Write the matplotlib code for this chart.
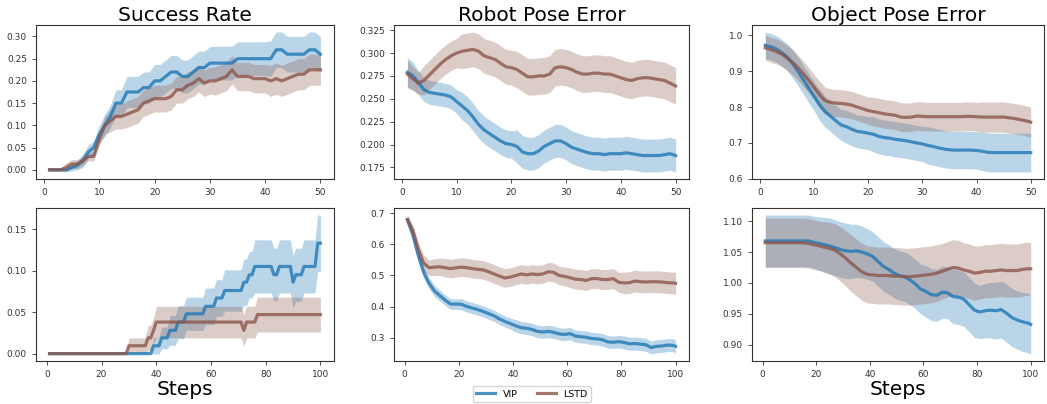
import numpy as np
import matplotlib
matplotlib.use("Agg")
import matplotlib.pyplot as plt
from matplotlib.ticker import MultipleLocator

# ---------------- data ----------------
titles = ["Success Rate", "Robot Pose Error", "Object Pose Error"]
series_names = ["VIP", "LSTD"]
xlabel = "Steps"

steps50 = list(range(1, 51))
steps100 = list(range(1, 101))
steps100s = list(range(1, 100, 2)) + [100]

# Top row (50 steps)
sr_vip = [0, 0, 0, 0, 0.005, 0.01, 0.02, 0.04, 0.05, 0.08,
          0.10, 0.12, 0.15, 0.15, 0.175, 0.175, 0.175, 0.185, 0.185, 0.20,
          0.20, 0.21, 0.22, 0.22, 0.21, 0.21, 0.22, 0.23, 0.23, 0.24,
          0.24, 0.24, 0.24, 0.24, 0.25, 0.25, 0.25, 0.25, 0.25, 0.25,
          0.25, 0.27, 0.27, 0.26, 0.26, 0.26, 0.26, 0.27, 0.27, 0.26]
sr_vip_err = ([0.003] * 4 + [0.008, 0.01, 0.015, 0.015, 0.015, 0.02]
              + [0.025, 0.025, 0.03, 0.03, 0.035, 0.035, 0.035, 0.035, 0.035, 0.037]
              + [0.037] * 10 + [0.038] * 10 + [0.04] * 10)
sr_lstd = [0, 0, 0, 0.005, 0.013, 0.013, 0.02, 0.03, 0.03, 0.07,
           0.10, 0.11, 0.12, 0.12, 0.125, 0.13, 0.135, 0.15, 0.155, 0.16,
           0.16, 0.16, 0.165, 0.18, 0.18, 0.19, 0.195, 0.205, 0.195, 0.20,
           0.20, 0.205, 0.21, 0.225, 0.21, 0.21, 0.21, 0.205, 0.205, 0.205,
           0.20, 0.205, 0.20, 0.205, 0.21, 0.215, 0.215, 0.225, 0.225, 0.225]
sr_lstd_err = ([0.003] * 3 + [0.01] * 6 + [0.015]
               + [0.02, 0.025, 0.028, 0.028, 0.03, 0.03, 0.03, 0.03, 0.03, 0.03]
               + [0.03] * 10 + [0.032] * 10 + [0.035] * 10)

rp_vip = [0.279, 0.275, 0.268, 0.260, 0.257, 0.256, 0.255, 0.254, 0.252, 0.247,
          0.242, 0.237, 0.230, 0.222, 0.216, 0.212, 0.208, 0.204, 0.201, 0.200,
          0.198, 0.192, 0.190, 0.190, 0.193, 0.198, 0.201, 0.204, 0.204, 0.201,
          0.197, 0.195, 0.193, 0.191, 0.190, 0.190, 0.189, 0.190, 0.190, 0.190,
          0.191, 0.190, 0.189, 0.188, 0.188, 0.188, 0.188, 0.189, 0.190, 0.188]
rp_vip_err = [0.016, 0.015] + [0.013] * 8 + [0.015] * 10 + [0.018] * 30
rp_lstd = [0.277, 0.272, 0.267, 0.270, 0.276, 0.282, 0.288, 0.293, 0.297, 0.300,
           0.302, 0.303, 0.304, 0.302, 0.297, 0.295, 0.293, 0.289, 0.285, 0.284,
           0.282, 0.278, 0.274, 0.274, 0.275, 0.275, 0.277, 0.284, 0.285, 0.284,
           0.282, 0.279, 0.277, 0.277, 0.278, 0.278, 0.277, 0.277, 0.275, 0.273,
           0.271, 0.270, 0.272, 0.273, 0.273, 0.272, 0.271, 0.270, 0.267, 0.264]
rp_lstd_err = [0.015, 0.013, 0.012] + [0.016] * 7 + [0.019] * 10 + [0.02] * 30

op_vip = [0.972, 0.968, 0.962, 0.952, 0.940, 0.922, 0.900, 0.877, 0.853, 0.830,
          0.807, 0.788, 0.775, 0.762, 0.750, 0.745, 0.738, 0.732, 0.730, 0.727,
          0.724, 0.718, 0.715, 0.713, 0.710, 0.708, 0.706, 0.703, 0.700, 0.697,
          0.693, 0.690, 0.686, 0.683, 0.681, 0.680, 0.680, 0.680, 0.680, 0.679,
          0.677, 0.674, 0.673, 0.673, 0.673, 0.673, 0.673, 0.673, 0.673, 0.673]
op_vip_err = [0.037] * 5 + [0.04] * 5 + [0.043] * 5 + [0.046] * 5 + [0.049] * 10 + [0.052] * 10 + [0.054] * 10
op_lstd = [0.965, 0.960, 0.955, 0.948, 0.937, 0.925, 0.910, 0.893, 0.875, 0.855,
           0.835, 0.818, 0.813, 0.811, 0.810, 0.808, 0.805, 0.800, 0.795, 0.790,
           0.787, 0.784, 0.781, 0.779, 0.777, 0.772, 0.771, 0.772, 0.775, 0.774,
           0.773, 0.773, 0.773, 0.773, 0.773, 0.773, 0.773, 0.774, 0.774, 0.773,
           0.772, 0.772, 0.772, 0.772, 0.772, 0.770, 0.768, 0.765, 0.762, 0.758]
op_lstd_err = [0.035] * 10 + [0.038] * 10 + [0.04] * 20 + [0.042] * 10

# Bottom row (100 steps)
sr2_vip = ([0.0] * 38 + [0.0095] * 3 + [0.019] * 3 + [0.028] * 3 + [0.038] * 3
           + [0.048] * 7 + [0.057] * 4 + [0.067] * 3 + [0.076] * 7 + [0.086] * 2
           + [0.095] * 2 + [0.105] * 7 + [0.095] * 2 + [0.105] * 5 + [0.086]
           + [0.095] * 3 + [0.105] * 5 + [0.133] * 2)
sr2_vip_err = ([0.0] * 38 + [0.01] * 3 + [0.013] * 3 + [0.018] * 3 + [0.02] * 3
               + [0.02] * 7 + [0.022] * 7 + [0.025] * 7 + [0.028] * 4 + [0.032] * 23 + [0.034] * 2)
sr2_lstd = ([0.0] * 29 + [0.0095] * 7 + [0.019] * 2 + [0.028] + [0.038] * 32
            + [0.028] + [0.038] * 4 + [0.047] * 24)
sr2_lstd_err = [0.0] * 29 + [0.0095] * 7 + [0.015] * 3 + [0.019] * 37 + [0.021] * 24

rp2_vip = [0.68, 0.63, 0.565, 0.51, 0.475, 0.45, 0.435, 0.42, 0.408, 0.408,
           0.407, 0.40, 0.395, 0.39, 0.384, 0.377, 0.37, 0.36, 0.352, 0.345,
           0.338, 0.332, 0.33, 0.326, 0.32, 0.318, 0.32, 0.317, 0.312, 0.31,
           0.313, 0.305, 0.303, 0.301, 0.297, 0.296, 0.293, 0.286, 0.285, 0.287,
           0.284, 0.28, 0.281, 0.279, 0.277, 0.268, 0.272, 0.273, 0.276, 0.275,
           0.272]
rp2_vip_err = ([0.012, 0.015, 0.018, 0.018, 0.018, 0.018, 0.018, 0.017, 0.017, 0.017]
               + [0.018] * 10 + [0.02] * 20 + [0.021] * 11)
rp2_lstd = [0.68, 0.645, 0.585, 0.54, 0.525, 0.527, 0.528, 0.525, 0.522, 0.525,
            0.527, 0.525, 0.522, 0.52, 0.518, 0.512, 0.505, 0.498, 0.492, 0.495,
            0.50, 0.505, 0.502, 0.505, 0.503, 0.505, 0.512, 0.51, 0.50, 0.497,
            0.493, 0.488, 0.487, 0.484, 0.49, 0.49, 0.487, 0.487, 0.49, 0.478,
            0.476, 0.477, 0.482, 0.48, 0.479, 0.48, 0.48, 0.479, 0.477, 0.476,
            0.475]
rp2_lstd_err = ([0.015, 0.018, 0.022, 0.025, 0.025, 0.027, 0.028, 0.03, 0.03, 0.03]
                + [0.03] * 20 + [0.032] * 10 + [0.035] * 11)

op2_vip = ([1.068] * 9 + [1.066]
           + [1.064, 1.062, 1.060, 1.057, 1.054, 1.052, 1.051, 1.052, 1.050, 1.047]
           + [1.043, 1.035, 1.027, 1.022, 1.016, 1.012, 1.010, 1.005, 0.998, 0.990]
           + [0.986, 0.981, 0.980, 0.985, 0.984, 0.978, 0.977, 0.974, 0.965, 0.956]
           + [0.953, 0.955, 0.956, 0.955, 0.957, 0.951, 0.944, 0.940, 0.937, 0.935]
           + [0.933])
op2_vip_err = ([0.042] * 10
               + [0.043, 0.044, 0.045, 0.045, 0.045, 0.045, 0.044, 0.043, 0.042, 0.041]
               + [0.04] * 10 + [0.042] * 5 + [0.044] * 5
               + [0.043, 0.044, 0.045, 0.046, 0.046, 0.047, 0.047, 0.047, 0.048, 0.048]
               + [0.048])
op2_lstd = ([1.065] * 8 + [1.064, 1.062]
            + [1.060, 1.058, 1.056, 1.053, 1.047, 1.040, 1.032, 1.025, 1.018, 1.014]
            + [1.013, 1.012, 1.012, 1.012, 1.011, 1.011, 1.010, 1.010, 1.011, 1.012]
            + [1.013, 1.014, 1.016, 1.019, 1.022, 1.025, 1.024, 1.021, 1.019, 1.016]
            + [1.017, 1.019, 1.019, 1.020, 1.021, 1.020, 1.020, 1.020, 1.022, 1.023]
            + [1.023])
op2_lstd_err = ([0.04] * 10
                + [0.04, 0.041, 0.042, 0.043, 0.044, 0.045, 0.046, 0.046, 0.046, 0.046]
                + [0.046] * 10
                + [0.046, 0.046, 0.046, 0.045, 0.045, 0.045, 0.045, 0.044, 0.044, 0.044]
                + [0.043] * 10 + [0.042])

panels = [
    [(steps50, sr_vip, sr_vip_err, sr_lstd, sr_lstd_err),
     (steps50, rp_vip, rp_vip_err, rp_lstd, rp_lstd_err),
     (steps50, op_vip, op_vip_err, op_lstd, op_lstd_err)],
    [(steps100, sr2_vip, sr2_vip_err, sr2_lstd, sr2_lstd_err),
     (steps100s, rp2_vip, rp2_vip_err, rp2_lstd, rp2_lstd_err),
     (steps100s, op2_vip, op2_vip_err, op2_lstd, op2_lstd_err)],
]
y_tick_step = [[0.05, 0.025, 0.1], [0.05, 0.1, 0.05]]
x_tick_step = [10, 20]

# ---------------- styling / layout ----------------
colors = ["tab:blue", "tab:brown"]
W, H = 1047, 404
fig = plt.figure(figsize=(W / 100, H / 100), dpi=100)

col_px = [(36, 334), (394, 689), (752, 1044)]
row_px = [(25, 179), (208, 361)]

handles = []
for r in range(2):
    for c in range(3):
        x0, x1 = col_px[c]
        y0, y1 = row_px[r]
        ax = fig.add_axes([x0 / W, 1 - y1 / H, (x1 - x0) / W, (y1 - y0) / H])
        x, m1, e1, m2, e2 = panels[r][c]
        x = np.asarray(x)
        for k, (m, e) in enumerate([(m1, e1), (m2, e2)]):
            m = np.asarray(m)
            e = np.asarray(e)
            ax.fill_between(x, m - e, m + e, color=colors[k], alpha=0.3, linewidth=0)
            ln, = ax.plot(x, m, color=colors[k], alpha=0.8, linewidth=2.3,
                          label=series_names[k])
            if r == 0 and c == 0:
                handles.append(ln)
        ax.yaxis.set_major_locator(MultipleLocator(y_tick_step[r][c]))
        ax.xaxis.set_major_locator(MultipleLocator(x_tick_step[r]))
        ax.tick_params(labelsize=6.5, length=3, width=0.6, colors="#333333")
        for sp in ax.spines.values():
            sp.set_linewidth(0.8)
            sp.set_color("#333333")
        if r == 0:
            ax.set_title(titles[c], fontsize=14.5, pad=3)
        if r == 1 and c != 1:
            ax.set_xlabel(xlabel, fontsize=14.5, labelpad=1)

fig.legend(handles, series_names, loc="upper center", bbox_to_anchor=(0.508, 0.045),
           ncol=2, fontsize=6.8, frameon=True, borderaxespad=0)

fig.savefig("out.png", dpi=100)
